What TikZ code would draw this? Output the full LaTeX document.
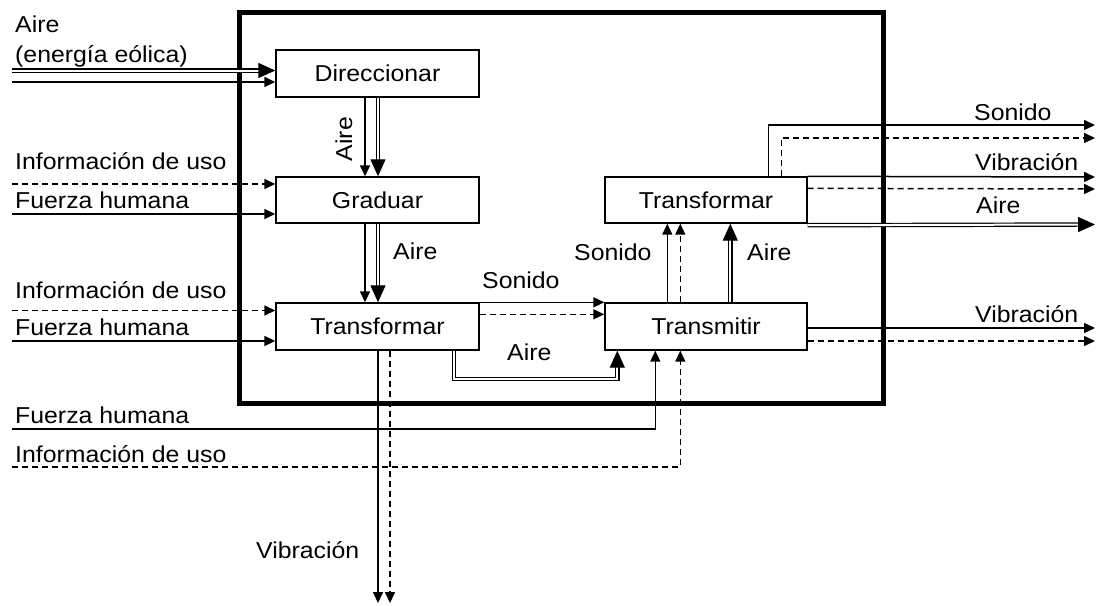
\documentclass[tikz,border=0pt]{standalone}
\usepackage{fontspec}
\setmainfont{Liberation Sans}[FakeStretch=1.08]
\usetikzlibrary{arrows.meta,calc}
\begin{document}
\begin{tikzpicture}[x=1pt,y=-1pt,
  font=\fontsize{23}{27}\selectfont,
  box/.style={draw, line width=1.4pt, minimum width=203pt, minimum height=47pt, inner sep=0pt},
  flow/.style={line width=1.5pt, -{Triangle[length=11pt,width=10pt]}},
  sig/.style={flow, dash pattern=on 6pt off 4pt},
  dflow/.style={double, double distance=2pt, line width=1.2pt, -{Triangle[length=17pt,width=15pt]}},
  lab/.style={anchor=base west, inner sep=0pt}
]
\useasboundingbox (0,0) rectangle (1099,605);

% system boundary
\draw[line width=5pt] (239.5,12.5) rectangle (883,403);

% function boxes
\node[box] (d) at (377.5,73.5) {Direccionar};
\node[box, minimum height=46pt] (g) at (377.5,200) {Graduar};
\node[box] (t1) at (377.5,326.5) {Transformar};
\node[box, minimum width=202pt] (tm) at (706,326.5) {Transmitir};
\node[box, minimum width=202pt, minimum height=46pt] (t2) at (706,200) {Transformar};

% free ends
\coordinate (inAD) at (12,70.5);
\coordinate (inAS) at (12,82);
\coordinate (ig) at (12,184);
\coordinate (fg) at (12,214);
\coordinate (it) at (12,310.5);
\coordinate (ft) at (12,341);
\coordinate (fb) at (12,429);
\coordinate (ib) at (12,467);
\coordinate (vb1) at (378,603);
\coordinate (vb2) at (390,603);
\coordinate (so1) at (1095,125);
\coordinate (so2) at (1095,138);
\coordinate (vi1) at (1095,177);
\coordinate (vi2) at (1095,189);
\coordinate (ai) at (1095,224.5);
\coordinate (vt1) at (1095,328);
\coordinate (vt2) at (1095,341);

% inputs to Direccionar
\draw[dflow] (inAD) -- (inAD -| d.west);
\draw[flow] (inAS) -- (inAS -| d.west);
% Direccionar -> Graduar
\draw[dflow] ($(d.south)+(0.5,0)$) -- ($(g.north)+(0.5,0)$);
\draw[flow] ($(d.south)+(-12.5,0)$) -- ($(g.north)+(-12.5,0)$);
% inputs to Graduar
\draw[sig] (ig) -- (ig -| g.west);
\draw[flow] (fg) -- (fg -| g.west);
% Graduar -> Transformar
\draw[dflow] ($(g.south)+(0.5,0)$) -- ($(t1.north)+(0.5,0)$);
\draw[flow] ($(g.south)+(-12.5,0)$) -- ($(t1.north)+(-12.5,0)$);
% inputs to Transformar
\draw[sig] (it) -- (it -| t1.west);
\draw[flow] (ft) -- (ft -| t1.west);
% Transformar -> Transmitir
\draw[flow] (t1.north east) -- (tm.north west);
\draw[sig] ($(t1.north east)+(0,12)$) -- ($(tm.north west)+(0,12)$);
\draw[dflow] ($(t1.south east)+(-26,0)$) |- ($(tm.south west)+(13,28)$) -- ($(tm.south west)+(13,0)$);
% Transformar -> outside (Vibración)
\draw[flow] ($(t1.south)+(0.5,0)$) -- (vb1);
\draw[sig] ($(t1.south)+(12.5,0)$) -- (vb2);
% inputs to Transmitir from below
\draw[flow] (fb) -| ($(tm.south west)+(51,0)$);
\draw[sig] (ib) -| ($(tm.south west)+(76,0)$);
% Transmitir -> Transformar (upper)
\draw[flow] ($(tm.north west)+(63,0)$) -- ($(t2.south west)+(63,0)$);
\draw[sig] ($(tm.north west)+(76,0)$) -- ($(t2.south west)+(76,0)$);
\draw[dflow] ($(tm.north west)+(126,0)$) -- ($(t2.south west)+(126,0)$);
% Transformar (upper) outputs
\draw[flow] ($(t2.north west)+(164,0)$) |- (so1);
\draw[sig] ($(t2.north west)+(177,0)$) |- (so2);
\draw[flow] (t2.north east) -- (vi1);
\draw[sig] ($(t2.north east)+(0,12)$) -- (vi2);
\draw[dflow] ($(t2.south east)+(0,1.5)$) -- (ai);
% Transmitir outputs
\draw[flow] ($(tm.east)+(0,1.5)$) -- (vt1);
\draw[sig] ($(tm.east)+(0,14.5)$) -- (vt2);

% labels
\node[lab] (l1) at (15,32) {Aire};
\node[lab] (l2) at (15,62) {(energía eólica)};
\node[lab] (l3) at (15,169) {Información de uso};
\node[lab] (l4) at (15,208) {Fuerza humana};
\node[lab] (l5) at (15,298) {Información de uso};
\node[lab] (l6) at (15,335) {Fuerza humana};
\node[lab] (l7) at (15,423) {Fuerza humana};
\node[lab] (l8) at (15,462) {Información de uso};
\node[lab] (l9) at (256,558) {Vibración};
\node[rotate=90, inner sep=0pt] (l10) at (344,139) {Aire};
\node[lab] (l11) at (393,259) {Aire};
\node[lab] (l12) at (482,288) {Sonido};
\node[lab] (l13) at (507,360) {Aire};
\node[lab] (l14) at (574,260) {Sonido};
\node[lab] (l15) at (747,260) {Aire};
\node[lab] (l16) at (974,120) {Sonido};
\node[lab] (l17) at (975,170) {Vibración};
\node[lab] (l18) at (976,213) {Aire};
\node[lab] (l19) at (975,322) {Vibración};
\end{tikzpicture}
\end{document}
